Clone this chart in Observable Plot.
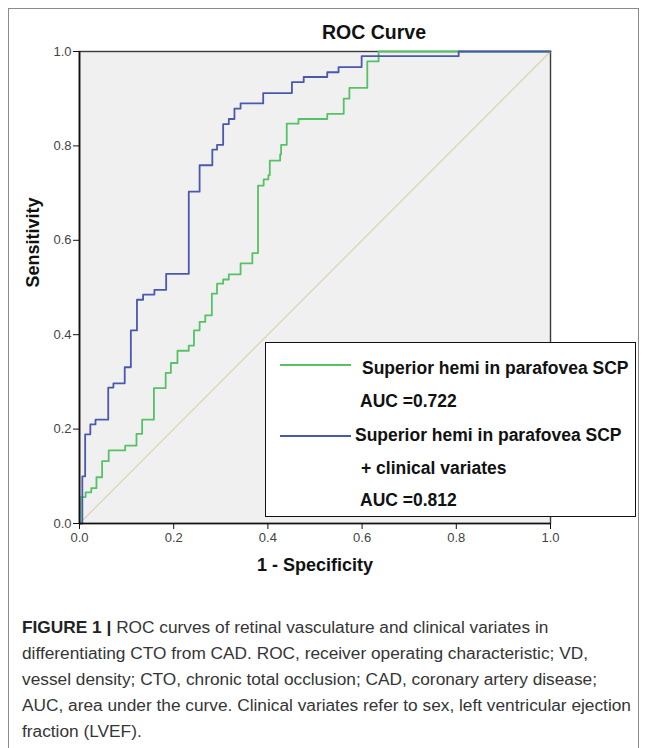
<!DOCTYPE html>
<html>
<head>
<meta charset="utf-8">
<script src="https://cdn.jsdelivr.net/npm/d3@7"></script>
<script src="https://cdn.jsdelivr.net/npm/@observablehq/plot@0.6"></script>
<style>
  html, body { margin: 0; padding: 0; background: #fff; }
  #page { position: relative; width: 652px; height: 748px; overflow: hidden; font-family: "Liberation Sans", Arial, sans-serif; }
  #box { position: absolute; left: 8px; top: 8px; width: 629px; height: 760px; border: 1px solid #8a8a8a; }
  #chart { position: absolute; left: 0; top: 0; }
  #title { position: absolute; left: 254px; width: 240px; top: 21px; text-align: center; font-weight: bold; font-size: 19.5px; color: #111; }
  #legend { position: absolute; left: 265px; top: 342px; width: 369px; height: 173px; background: #fff; border: 1.5px solid #111; }
  .lg-line { position: absolute; left: 14px; width: 71px; height: 0; border-top: 2px solid; }
  .lg-text { position: absolute; font-weight: bold; font-size: 17.5px; line-height: 20px; color: #111; white-space: nowrap; }
  #caption { position: absolute; left: 22px; top: 614px; width: 630px; font-size: 17.3px; line-height: 26px; color: #353535; white-space: nowrap; }
  #caption b { color: #222; }
</style>
</head>
<body>
<div id="page">
  <div id="box"></div>
  <div id="chart"></div>
  <div id="title"></div>
  <div id="legend"></div>
  <div id="caption"></div>
</div>
<script>
// ---- data ----
const titleText = "ROC Curve";
const xLabel = "1 - Specificity";
const yLabel = "Sensitivity";
const tickValues = [0, 0.2, 0.4, 0.6, 0.8, 1.0];

const seriesNames = [
  ["Superior hemi in parafovea SCP", "AUC =0.722"],
  ["Superior hemi in parafovea SCP", "+ clinical variates", "AUC =0.812"]
];
const seriesColors = ["#55c264", "#4a58ad"];
const refColor = "#d9d3b6";

// Superior hemi in parafovea SCP (green)
const greenFpr = [0, 0.002, 0.013, 0.025, 0.036, 0.048, 0.062, 0.097, 0.121, 0.133,
  0.158, 0.183, 0.194, 0.208, 0.232, 0.243, 0.255, 0.267, 0.281, 0.292,
  0.305, 0.317, 0.342, 0.367, 0.379, 0.391, 0.401, 0.404, 0.426, 0.428,
  0.440, 0.465, 0.526, 0.561, 0.573, 0.611, 0.635, 1.0];
const greenTpr = [0, 0.056, 0.066, 0.075, 0.098, 0.132, 0.155, 0.165, 0.19, 0.22,
  0.287, 0.319, 0.340, 0.366, 0.377, 0.409, 0.427, 0.441, 0.487, 0.508,
  0.517, 0.528, 0.551, 0.573, 0.716, 0.729, 0.738, 0.769, 0.782, 0.802,
  0.847, 0.857, 0.868, 0.90, 0.923, 0.979, 1.0, 1.0];

// Superior hemi in parafovea SCP + clinical variates (blue)
const blueFpr = [0, 0.006, 0.012, 0.023, 0.034, 0.061, 0.072, 0.096, 0.109, 0.122,
  0.135, 0.159, 0.184, 0.232, 0.255, 0.282, 0.292, 0.305, 0.317, 0.329,
  0.342, 0.390, 0.451, 0.476, 0.526, 0.550, 0.599, 0.805, 1.0];
const blueTpr = [0, 0.10, 0.189, 0.21, 0.22, 0.288, 0.297, 0.331, 0.409, 0.474,
  0.485, 0.495, 0.529, 0.703, 0.759, 0.792, 0.802, 0.846, 0.857, 0.879,
  0.890, 0.912, 0.935, 0.946, 0.956, 0.967, 0.990, 1.0, 1.0];

// reference diagonal
const refX = [0, 1];
const refY = [0, 1];

const captionLines = [
  "ROC curves of retinal vasculature and clinical variates in",
  "differentiating CTO from CAD. ROC, receiver operating characteristic; VD,",
  "vessel density; CTO, chronic total occlusion; CAD, coronary artery disease;",
  "AUC, area under the curve. Clinical variates refer to sex, left ventricular ejection",
  "fraction (LVEF)."
];
const captionLead = "FIGURE 1 |";

// ---- build ----
const green = greenFpr.map((x, i) => ({x, y: greenTpr[i]}));
const blue = blueFpr.map((x, i) => ({x, y: blueTpr[i]}));
const ref = refX.map((x, i) => ({x, y: refY[i]}));

const fmt = d3.format(".1f");
const chart = Plot.plot({
  width: 652,
  height: 600,
  marginLeft: 79,
  marginRight: 102,
  marginTop: 51,
  marginBottom: 77,
  style: {fontFamily: "Liberation Sans, Arial, sans-serif", fontSize: "13px", color: "#333", background: "transparent"},
  x: {domain: [0, 1]},
  y: {domain: [0, 1]},
  marks: [
    Plot.frame({fill: "#f0f0f0", stroke: "#3a3a3a", strokeWidth: 1.4}),
    Plot.line(ref, {x: "x", y: "y", stroke: refColor, strokeWidth: 1.2}),
    Plot.line(green, {x: "x", y: "y", curve: "step-after", stroke: seriesColors[0], strokeWidth: 1.8}),
    Plot.line(blue, {x: "x", y: "y", curve: "step-after", stroke: seriesColors[1], strokeWidth: 1.8}),
    Plot.ruleX([0], {stroke: "#111", strokeWidth: 1.7}),
    Plot.ruleY([0], {stroke: "#111", strokeWidth: 1.7}),
    Plot.axisX({ticks: tickValues, tickFormat: fmt, tickSize: 6, tickPadding: 3, label: null, stroke: "#111", fill: "#444"}),
    Plot.axisY({ticks: tickValues, tickFormat: fmt, tickSize: 6, tickPadding: 2, label: null, stroke: "#111", fill: "#444"}),
    Plot.text([xLabel], {frameAnchor: "bottom", dy: 47, fontWeight: "bold", fontSize: 18, fill: "#111"}),
    Plot.text([yLabel], {frameAnchor: "left", dx: -46, rotate: -90, fontWeight: "bold", fontSize: 18, fill: "#111"})
  ]
});
document.getElementById("chart").appendChild(chart);
document.getElementById("title").textContent = titleText;

// legend
const legend = document.getElementById("legend");
const legendRows = [
  {line: seriesColors[0], lineTop: 21, texts: [[seriesNames[0][0], 96, 15], [seriesNames[0][1], 94, 48]]},
  {line: seriesColors[1], lineTop: 92, texts: [[seriesNames[1][0], 89, 82], [seriesNames[1][1], 95, 115], [seriesNames[1][2], 94, 147]]}
];
for (const r of legendRows) {
  const l = document.createElement("div");
  l.className = "lg-line";
  l.style.top = r.lineTop + "px";
  l.style.borderTopColor = r.line;
  legend.appendChild(l);
  for (const [t, left, top] of r.texts) {
    const s = document.createElement("div");
    s.className = "lg-text";
    s.style.left = left + "px";
    s.style.top = top + "px";
    s.textContent = t;
    legend.appendChild(s);
  }
}

// caption
const cap = document.getElementById("caption");
captionLines.forEach((line, i) => {
  const d = document.createElement("div");
  if (i === 0) {
    const b = document.createElement("b");
    b.textContent = captionLead + " ";
    d.appendChild(b);
  }
  d.appendChild(document.createTextNode(line));
  cap.appendChild(d);
});
</script>
</body>
</html>
